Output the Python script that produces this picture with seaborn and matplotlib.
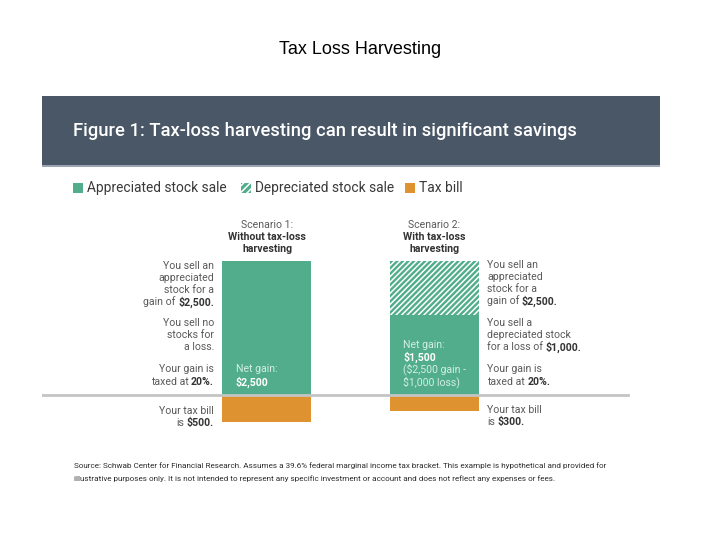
import matplotlib
matplotlib.use("Agg")
import matplotlib.pyplot as plt
from matplotlib.patches import Rectangle
import seaborn as sns
import pandas as pd

# ---- data ----
scenarios = ["Scenario 1", "Scenario 2"]
gross_gain = [2500, 2500]
net_gain = [2500, 1500]
tax_bill = [-500, -300]

legend_labels = ["Appreciated stock sale", "Depreciated stock sale", "Tax bill"]

GREEN = "#52ad8c"
ORANGE = "#df9330"
BAND = "#4a5766"
GREY = "#5a5a5a"
DARK = "#333333"
MINT = "#d2efe2"
FONT = ["Roboto", "DejaVu Sans"]
HATCH = "/" * 6

plt.rcParams["hatch.linewidth"] = 1.1

W, H = 720, 540
fig = plt.figure(figsize=(7.2, 5.4), dpi=100)
fig.patch.set_facecolor("white")


def fx(x):
    return x / W


def fy(y):
    return 1 - y / H


# ---- page title ----
fig.text(fx(360), fy(49), "Tax Loss Harvesting", ha="center", va="center",
         fontsize=13, family=["Liberation Sans", "DejaVu Sans"], color="black")

# ---- header band ----
fig.patches.append(Rectangle((fx(42), fy(165)), fx(618), 69 / H, transform=fig.transFigure,
                             facecolor=BAND, edgecolor="none", zorder=0))
fig.patches.append(Rectangle((fx(42), fy(167)), fx(618), 2 / H, transform=fig.transFigure,
                             facecolor="#9aa5b1", edgecolor="none", zorder=0))
fig.text(fx(73), fy(131), "Figure 1: Tax-loss harvesting can result in significant savings",
         ha="left", va="center", fontsize=13.2, family=FONT, weight="medium", color="white")

# ---- main axes with bars ----
ax = fig.add_axes([fx(42), 1 - 440 / H, fx(618), 240 / H])
df = pd.DataFrame({"scenario": scenarios, "gross": gross_gain, "net": net_gain, "tax": tax_bill})
sns.barplot(data=df, x="scenario", y="gross", color=GREEN, width=0.53, linewidth=0,
            errorbar=None, saturation=1, ax=ax)
hatched = ax.patches[1]
hatched.set_hatch(HATCH)
hatched.set_edgecolor("white")
hatched.set_linewidth(0)
sns.barplot(data=df, x="scenario", y="net", color=GREEN, width=0.53, linewidth=0,
            errorbar=None, saturation=1, ax=ax)
sns.barplot(data=df, x="scenario", y="tax", color=ORANGE, width=0.53, linewidth=0,
            errorbar=None, saturation=1, ax=ax)
ax.axhline(0, xmin=0, xmax=(628 - 42) / 618, color="#c4c4c4", linewidth=2, zorder=5)
ax.set_xlim(-1.336, 2.342)
ax.set_ylim(-840, 3638)
ax.axis("off")

# ---- rich text helper ----
renderer = fig.canvas.get_renderer()


def measure(s, weight, size):
    t = fig.text(0, 0, s, fontsize=size, family=FONT, weight=weight)
    w = t.get_window_extent(renderer).width
    t.remove()
    return w


def rich(x, y, parts, ha="left", size=7.6):
    space = measure("x x", "normal", size) - measure("xx", "normal", size)
    widths = [measure(s, w, size) for s, w, c in parts]
    total = sum(widths) + space * (len(parts) - 1)
    if ha == "right":
        cx = x - total
    elif ha == "center":
        cx = x - total / 2
    else:
        cx = x
    for (s, w, c), wd in zip(parts, widths):
        fig.text(fx(cx), fy(y), s, fontsize=size, family=FONT, weight=w, color=c,
                 ha="left", va="center")
        cx += wd + space


def n(s, c=GREY):
    return (s, "normal", c)


def b(s, c=DARK):
    return (s, "bold", c)


# ---- legend ----
fig.patches.append(Rectangle((fx(73), fy(193)), fx(10), 10 / H, transform=fig.transFigure,
                             facecolor=GREEN, edgecolor="none"))
fig.patches.append(Rectangle((fx(241), fy(193)), fx(10), 10 / H, transform=fig.transFigure,
                             facecolor=GREEN, edgecolor="white", hatch="/" * 5, linewidth=0))
fig.patches.append(Rectangle((fx(405), fy(193)), fx(10), 10 / H, transform=fig.transFigure,
                             facecolor=ORANGE, edgecolor="none"))
for xx, lab in zip([87, 255, 419], legend_labels):
    fig.text(fx(xx), fy(188), lab, fontsize=9.9, family=FONT, color="#3a3a3a",
             ha="left", va="center")

# ---- scenario headers ----
rich(267, 225, [n("Scenario 1:")], ha="center")
rich(267, 237, [b("Without tax-loss")], ha="center")
rich(267, 249, [b("harvesting")], ha="center")
rich(434, 225, [n("Scenario 2:")], ha="center")
rich(434, 237, [b("With tax-loss")], ha="center")
rich(434, 249, [b("harvesting")], ha="center")

# ---- left annotations ----
XL = 214
rich(XL, 266, [n("You sell an")], ha="right")
rich(XL, 278, [n("appreciated")], ha="right")
rich(XL, 290, [n("stock for a")], ha="right")
rich(XL, 302, [n("gain of"), b("$2,500.")], ha="right")
rich(XL, 323, [n("You sell no")], ha="right")
rich(XL, 335, [n("stocks for")], ha="right")
rich(XL, 347, [n("a loss.")], ha="right")
rich(XL, 369, [n("Your gain is")], ha="right")
rich(XL, 382, [n("taxed at"), b("20%.")], ha="right")
rich(XL, 411, [n("Your tax bill")], ha="right")
rich(XL, 423, [n("is"), b("$500.")], ha="right")

# ---- right annotations ----
XR = 487
rich(XR, 265, [n("You sell an")])
rich(XR, 277, [n("appreciated")])
rich(XR, 289, [n("stock for a")])
rich(XR, 301, [n("gain of"), b("$2,500.")])
rich(XR, 323, [n("You sell a")])
rich(XR, 335, [n("depreciated stock")])
rich(XR, 347, [n("for a loss of"), b("$1,000.")])
rich(XR, 369, [n("Your gain is")])
rich(XR, 382, [n("taxed at"), b("20%.")])
rich(XR, 410, [n("Your tax bill")])
rich(XR, 422, [n("is"), b("$300.")])

# ---- in-bar labels ----
rich(236, 369, [n("Net gain:", MINT)])
rich(236, 382, [b("$2,500", "white")])
rich(403, 345, [n("Net gain:", MINT)])
rich(403, 357, [b("$1,500", "white")])
rich(403, 369, [n("($2,500 gain -", MINT)])
rich(403, 382, [n("$1,000 loss)", MINT)])

# ---- source note ----
SRC = ["Roboto", "DejaVu Sans"]
fig.text(fx(74), fy(466),
         "Source: Schwab Center for Financial Research. Assumes a 39.6% federal marginal income tax bracket. "
         "This example is hypothetical and provided for",
         fontsize=5.9, family=SRC, color="#2e2e2e", ha="left", va="center")
fig.text(fx(74), fy(479),
         "illustrative purposes only. It is not intended to represent any specific investment or account "
         "and does not reflect any expenses or fees.",
         fontsize=5.9, family=SRC, color="#2e2e2e", ha="left", va="center")

fig.savefig("out.png", dpi=100)
